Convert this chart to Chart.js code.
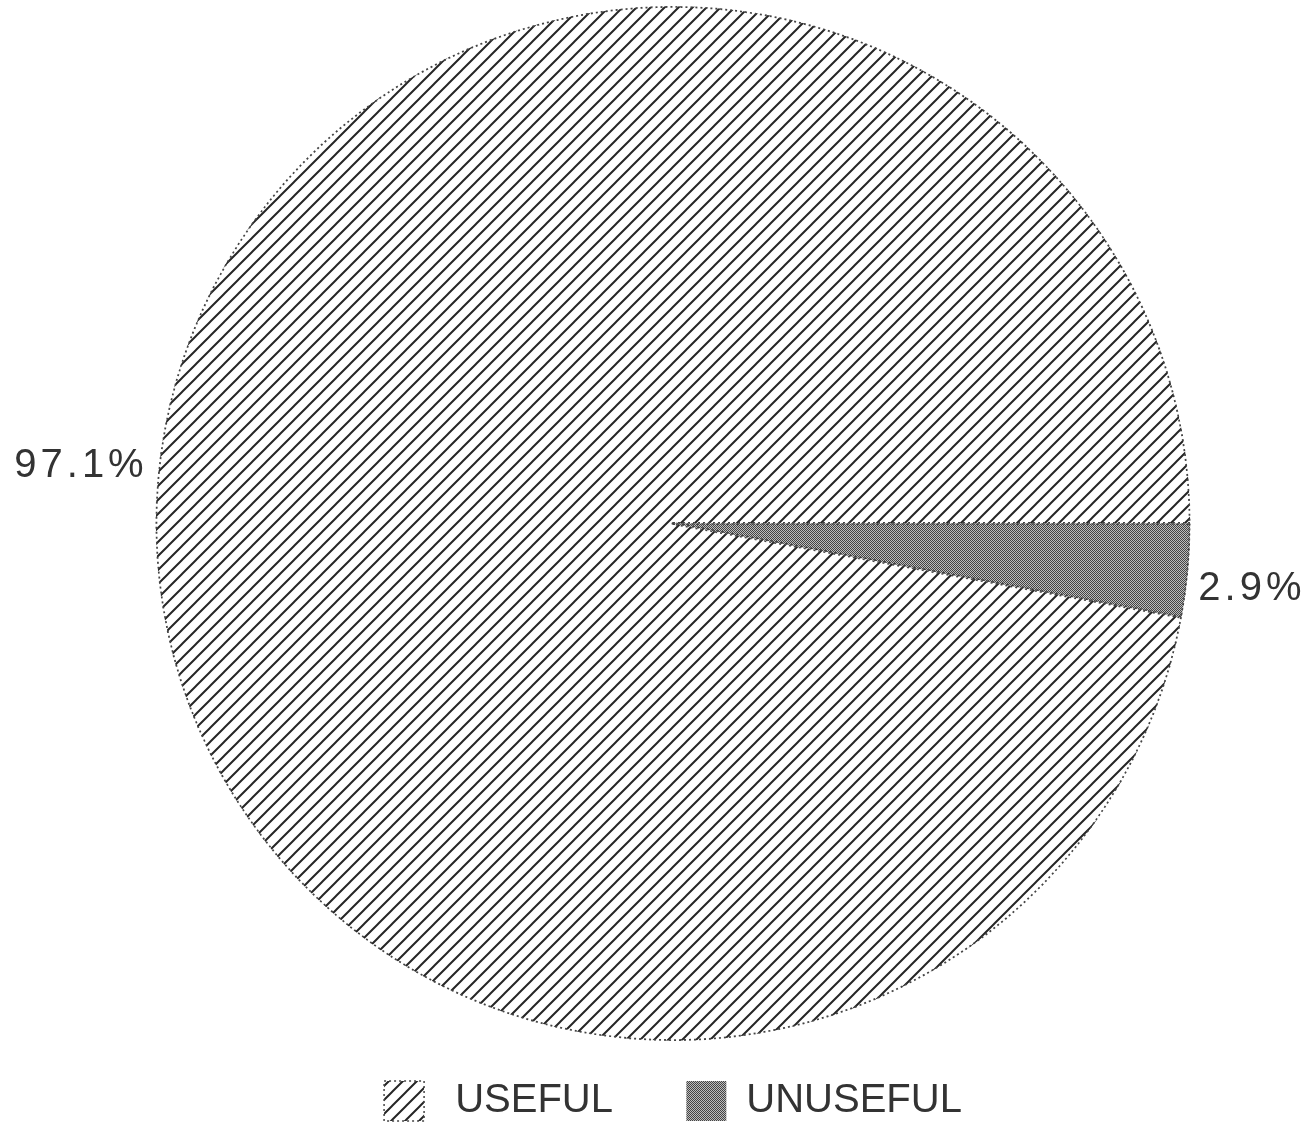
<!DOCTYPE html>
<html>
<head>
<meta charset="utf-8">
<script src="https://cdn.jsdelivr.net/npm/chart.js@4"></script>
<style>
  html, body { margin: 0; padding: 0; background: #ffffff; }
  canvas { display: block; }
</style>
</head>
<body>
<canvas id="c" width="1311" height="1131"></canvas>
<script>
const categories = ['USEFUL', 'UNUSEFUL'];
const percentages = [97.1, 2.9];
const valueLabels = ['97.1%', '2.9%'];

function makeHatch(step, lw, color) {
  const c = document.createElement('canvas');
  c.width = step; c.height = step;
  const g = c.getContext('2d');
  g.fillStyle = '#ffffff';
  g.fillRect(0, 0, step, step);
  g.strokeStyle = color;
  g.lineWidth = lw;
  g.beginPath();
  g.moveTo(-step, step * 2); g.lineTo(step * 2, -step);
  g.moveTo(-step, step); g.lineTo(step, -step);
  g.moveTo(0, step * 2); g.lineTo(step * 2, 0);
  g.stroke();
  return g.createPattern(c, 'repeat');
}
function makeStipple() {
  const c = document.createElement('canvas');
  c.width = 2; c.height = 2;
  const g = c.getContext('2d');
  g.fillStyle = '#bdbdbd'; g.fillRect(0, 0, 2, 2);
  g.fillStyle = '#444444'; g.fillRect(0, 0, 1, 1); g.fillRect(1, 1, 1, 1);
  return g.createPattern(c, 'repeat');
}

const hatch = makeHatch(14, 2, '#262626');
const stipple = makeStipple();
const fills = [hatch, stipple];

const sliceLabels = {
  id: 'sliceLabels',
  afterDatasetsDraw(chart) {
    const ctx = chart.ctx;
    const meta = chart.getDatasetMeta(0);
    ctx.save();
    ctx.font = '40px "Liberation Sans", Arial, sans-serif';
    try { ctx.letterSpacing = '4px'; } catch (e) {}
    ctx.fillStyle = '#333333';
    ctx.textBaseline = 'middle';
    meta.data.forEach((arc, i) => {
      const p = arc.getProps(['x', 'y', 'startAngle', 'endAngle', 'outerRadius'], true);
      const mid = (p.startAngle + p.endAngle) / 2;
      const r = p.outerRadius + 10;
      const cx = Math.cos(mid), sy = Math.sin(mid);
      const x = p.x + cx * r;
      const y = p.y + sy * r + (sy >= 0 ? 17 : -10);
      ctx.textAlign = cx < 0 ? 'right' : 'left';
      ctx.fillText(valueLabels[i], x, y);
    });
    ctx.restore();
  }
};

new Chart(document.getElementById('c'), {
  type: 'pie',
  data: {
    labels: categories,
    datasets: [{
      data: percentages,
      backgroundColor: fills,
      borderColor: '#444444',
      borderWidth: 1.5,
      borderDash: [2, 3],
      borderAlign: 'inner'
    }]
  },
  options: {
    responsive: false,
    devicePixelRatio: 1,
    animation: false,
    rotation: 90 + percentages[1] / 100 * 360,
    layout: { padding: { top: 6, left: 35, right: 0, bottom: 0 } },
    plugins: {
      tooltip: { enabled: false },
      legend: {
        position: 'bottom',
        labels: {
          boxWidth: 40,
          boxHeight: 40,
          padding: 40,
          color: '#333333',
          font: { family: '"Liberation Sans", Arial, sans-serif', size: 40 },
          generateLabels(chart) {
            return categories.map((name, i) => ({
              text: i === 0 ? ' ' + name + '   ' : name,
              fillStyle: fills[i],
              strokeStyle: i === 0 ? '#444444' : '#888888',
              lineWidth: i === 0 ? 1.5 : 0,
              lineDash: i === 0 ? [2, 3] : [],
              fontColor: '#333333',
              hidden: false,
              index: i
            }));
          }
        }
      }
    }
  },
  plugins: [sliceLabels]
});
</script>
</body>
</html>
